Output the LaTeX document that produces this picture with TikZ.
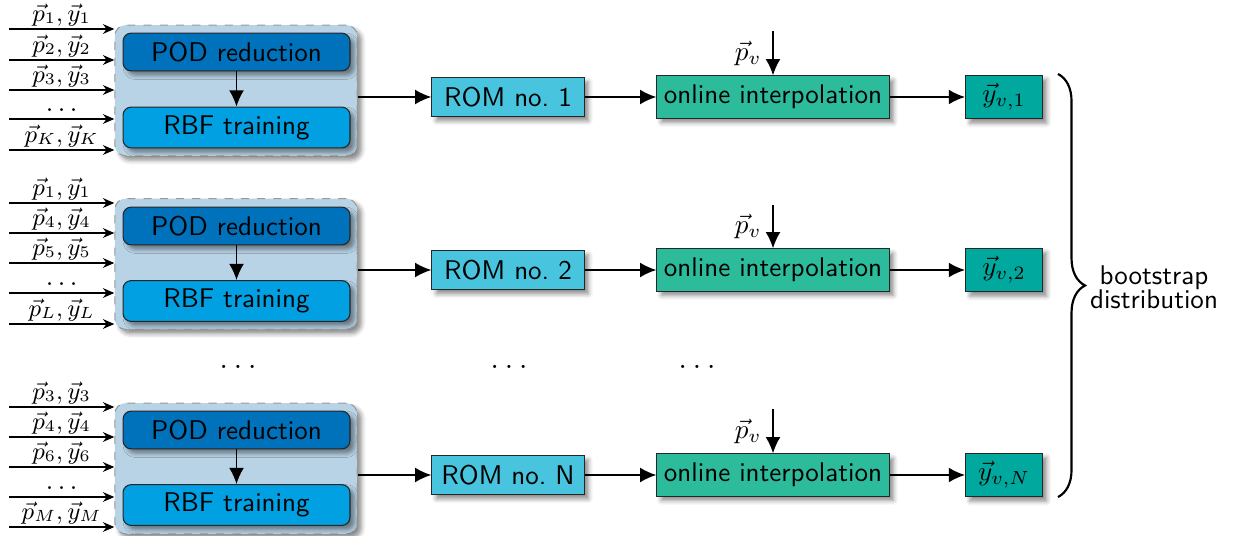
\documentclass[tikz,border=0pt]{standalone}
\usetikzlibrary{arrows.meta,shadows.blur,decorations.pathreplacing}

\definecolor{podblue}{RGB}{0,114,187}
\definecolor{rbfblue}{RGB}{0,160,226}
\definecolor{grpblue}{RGB}{185,211,230}
\definecolor{romcyan}{RGB}{72,196,222}
\definecolor{interpgreen}{RGB}{45,188,155}
\definecolor{outteal}{RGB}{0,168,157}

\tikzset{
    boxshadow/.style={blur shadow={shadow xshift=1.6pt,shadow yshift=-1.6pt,
                      shadow blur radius=1.6pt,shadow opacity=45}},
    stage/.style={draw=black!85,font=\sffamily,inner sep=0pt,boxshadow},
    podbox/.style={stage,rounded corners=3pt,fill=podblue,
                   minimum width=2.95cm,minimum height=0.49cm},
    rbfbox/.style={stage,rounded corners=3pt,fill=rbfblue,
                   minimum width=2.95cm,minimum height=0.53cm},
    grpbox/.style={draw=gray!80,dashed,fill=grpblue,rounded corners=4pt,
                   minimum width=3.15cm,minimum height=1.70cm,boxshadow},
    rombox/.style={stage,fill=romcyan,minimum width=1.98cm,minimum height=0.51cm},
    interpbox/.style={stage,fill=interpgreen,minimum width=3.02cm,minimum height=0.55cm},
    outbox/.style={stage,fill=outteal,minimum width=1.0cm,minimum height=0.57cm},
    flow/.style={-{Latex[length=6pt,width=5.5pt]},semithick},
    feed/.style={-{Stealth[length=4.2pt,width=3.6pt]}},
    feedlab/.style={midway,above,inner sep=1pt,font=\small},
    feeddots/.style={midway,above,inner sep=2.4pt},
    gapdots/.style={font=\large}
}

\begin{document}
\begin{tikzpicture}[x=0.013cm,y=-0.013cm]
    \useasboundingbox (0,0) rectangle (1243,535);

    % first bootstrap sample
    \node[grpbox] (grpA) at (236,90.5) {};
    \node[podbox] (podA) at (236.5,52)  {POD reduction};
    \node[rbfbox] (rbfA) at (236.5,127.5) {RBF training};
    \draw[flow] (podA) -- (rbfA);
    \coordinate (inA1) at (9,29);
    \coordinate (inA2) at (9,60);
    \coordinate (inA3) at (9,90);
    \coordinate (inA4) at (9,119);
    \coordinate (inA5) at (9,150);
    \draw[feed] (inA1) -- (inA1 -| grpA.west) node[feedlab] (labA1) {$\vec{p}_1,\vec{y}_1$};
    \draw[feed] (inA2) -- (inA2 -| grpA.west) node[feedlab] (labA2) {$\vec{p}_2,\vec{y}_2$};
    \draw[feed] (inA3) -- (inA3 -| grpA.west) node[feedlab] (labA3) {$\vec{p}_3,\vec{y}_3$};
    \draw[feed] (inA4) -- (inA4 -| grpA.west) node[feeddots] (labA4) {$\dots$};
    \draw[feed] (inA5) -- (inA5 -| grpA.west) node[feedlab] (labA5) {$\vec{p}_K,\vec{y}_K$};
    \node[rombox]    (romA)    at (508,97)  {ROM no.\ 1};
    \node[interpbox] (interpA) at (773,97)  {online interpolation};
    \node[outbox]    (outA)    at (1004,97) {$\vec{y}_{v,1}$};
    \coordinate (pvA) at (773,31);
    \draw[flow] (romA -| grpA.east) -- (romA);
    \draw[flow] (romA) -- (interpA);
    \draw[flow] (interpA) -- (outA);
    \draw[flow] (pvA) -- (interpA.north) node[midway,left,inner sep=4pt] (pvlabA) {$\vec{p}_v$};

    % second bootstrap sample
    \node[grpbox] (grpB) at (236,264) {};
    \node[podbox] (podB) at (236.5,226)  {POD reduction};
    \node[rbfbox] (rbfB) at (236.5,301) {RBF training};
    \draw[flow] (podB) -- (rbfB);
    \coordinate (inB1) at (9,203);
    \coordinate (inB2) at (9,233);
    \coordinate (inB3) at (9,263);
    \coordinate (inB4) at (9,293);
    \coordinate (inB5) at (9,324);
    \draw[feed] (inB1) -- (inB1 -| grpB.west) node[feedlab] (labB1) {$\vec{p}_1,\vec{y}_1$};
    \draw[feed] (inB2) -- (inB2 -| grpB.west) node[feedlab] (labB2) {$\vec{p}_4,\vec{y}_4$};
    \draw[feed] (inB3) -- (inB3 -| grpB.west) node[feedlab] (labB3) {$\vec{p}_5,\vec{y}_5$};
    \draw[feed] (inB4) -- (inB4 -| grpB.west) node[feeddots] (labB4) {$\dots$};
    \draw[feed] (inB5) -- (inB5 -| grpB.west) node[feedlab] (labB5) {$\vec{p}_L,\vec{y}_L$};
    \node[rombox]    (romB)    at (508,270)  {ROM no.\ 2};
    \node[interpbox] (interpB) at (773,270)  {online interpolation};
    \node[outbox]    (outB)    at (1004,270) {$\vec{y}_{v,2}$};
    \coordinate (pvB) at (773,205);
    \draw[flow] (romB -| grpB.east) -- (romB);
    \draw[flow] (romB) -- (interpB);
    \draw[flow] (interpB) -- (outB);
    \draw[flow] (pvB) -- (interpB.north) node[midway,left,inner sep=4pt] (pvlabB) {$\vec{p}_v$};

    % gap between the samples
    \node[gapdots] (dotsA) at (238,367) {$\dots$};
    \node[gapdots] (dotsB) at (509,367) {$\dots$};
    \node[gapdots] (dotsC) at (697,367) {$\dots$};

    % last bootstrap sample
    \node[grpbox] (grpC) at (236,468.5) {};
    \node[podbox] (podC) at (236.5,430)  {POD reduction};
    \node[rbfbox] (rbfC) at (236.5,505) {RBF training};
    \draw[flow] (podC) -- (rbfC);
    \coordinate (inC1) at (9,407);
    \coordinate (inC2) at (9,437);
    \coordinate (inC3) at (9,467);
    \coordinate (inC4) at (9,497);
    \coordinate (inC5) at (9,527);
    \draw[feed] (inC1) -- (inC1 -| grpC.west) node[feedlab] (labC1) {$\vec{p}_3,\vec{y}_3$};
    \draw[feed] (inC2) -- (inC2 -| grpC.west) node[feedlab] (labC2) {$\vec{p}_4,\vec{y}_4$};
    \draw[feed] (inC3) -- (inC3 -| grpC.west) node[feedlab] (labC3) {$\vec{p}_6,\vec{y}_6$};
    \draw[feed] (inC4) -- (inC4 -| grpC.west) node[feeddots] (labC4) {$\dots$};
    \draw[feed] (inC5) -- (inC5 -| grpC.west) node[feedlab] (labC5) {$\vec{p}_M,\vec{y}_M$};
    \node[rombox]    (romC)    at (508,475)  {ROM no.\ N};
    \node[interpbox] (interpC) at (773,475)  {online interpolation};
    \node[outbox]    (outC)    at (1004,475) {$\vec{y}_{v,N}$};
    \coordinate (pvC) at (773,409);
    \draw[flow] (romC -| grpC.east) -- (romC);
    \draw[flow] (romC) -- (interpC);
    \draw[flow] (interpC) -- (outC);
    \draw[flow] (pvC) -- (interpC.north) node[midway,left,inner sep=4pt] (pvlabC) {$\vec{p}_v$};

    % collect the outputs
    \coordinate (braceTop) at (1058,74);
    \coordinate (braceBot) at (1058,497);
    \draw[thick,decorate,decoration={brace,amplitude=10pt}] (braceTop) -- (braceBot);
    \node[font=\sffamily,align=center] (bootlab) at (1154,287) {bootstrap\\[-3pt]distribution};
\end{tikzpicture}
\end{document}
